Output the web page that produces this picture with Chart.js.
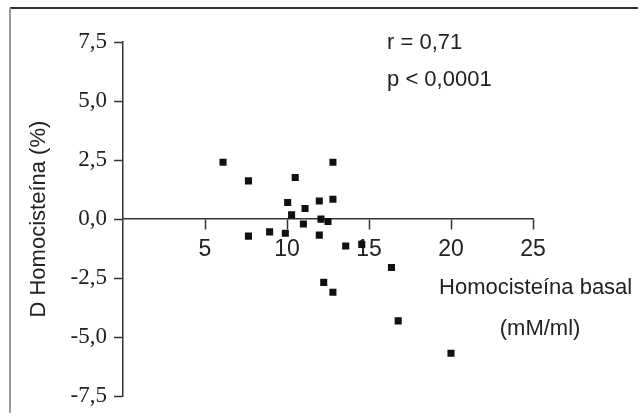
<!DOCTYPE html>
<html>
<head>
<meta charset="utf-8">
<script src="https://cdn.jsdelivr.net/npm/chart.js@4"></script>
<style>
  html, body { margin: 0; padding: 0; background: #fff; }
  #wrap { width: 639px; height: 417px; position: relative; }
</style>
</head>
<body>
<div id="wrap"><canvas id="homoChart"></canvas></div>
<script>
// Homocisteína basal (mM/ml) vs D Homocisteína (%)
const basal = [6.1, 7.65, 10.5, 12.8, 10.04, 11.1, 11.97, 12.8, 10.28, 11.0, 12.07, 12.5,
               7.65, 8.94, 9.9, 11.97, 13.58, 14.56, 16.37, 12.24, 12.8, 16.78, 20.0];
const deltaHcy = [2.41, 1.62, 1.76, 2.41, 0.70, 0.45, 0.77, 0.84, 0.18, -0.21, 0.0, -0.1,
                  -0.72, -0.54, -0.6, -0.68, -1.14, -1.07, -2.05, -2.68, -3.10, -4.31, -5.68];
const xTicks = [5, 10, 15, 20, 25];
const yTicks = [-7.5, -5.0, -2.5, 0.0, 2.5, 5.0, 7.5];

// textos sueltos (en coordenadas de datos)
const notes = [
    { text: 'r = 0,71', x: 16.1, y: 7.45, align: 'left' },
    { text: 'p < 0,0001', x: 16.1, y: 5.9, align: 'left' },
    { text: 'Homocisteína basal', x: 19.27, y: -2.93, align: 'left' },
    { text: '(mM/ml)', x: 25.43, y: -4.64, align: 'center' }
];

const points = basal.map((b, i) => ({ x: b, y: deltaHcy[i] }));

// marco de la figura y textos
const extras = {
    id: 'extras',
    beforeDraw(chart) {
        const ctx = chart.ctx;
        ctx.save();
        ctx.lineWidth = 2;
        ctx.strokeStyle = '#333';
        ctx.beginPath();
        ctx.moveTo(10, 8);
        ctx.lineTo(638, 8);
        ctx.stroke();
        ctx.strokeStyle = '#999';
        ctx.beginPath();
        ctx.moveTo(10, 8);
        ctx.lineTo(10, 413);
        ctx.stroke();
        ctx.restore();
    },
    afterDraw(chart) {
        const ctx = chart.ctx;
        const xs = chart.scales.x, ys = chart.scales.y;
        ctx.save();
        ctx.fillStyle = '#222';
        ctx.font = '22px "Liberation Sans", Arial, sans-serif';
        ctx.textBaseline = 'middle';
        notes.forEach(n => {
            ctx.textAlign = n.align;
            ctx.fillText(n.text, xs.getPixelForValue(n.x), ys.getPixelForValue(n.y));
        });
        ctx.restore();
    }
};

const config = {
    type: 'scatter',
    data: {
        datasets: [{
            data: points,
            pointStyle: 'rect',
            pointRadius: 5,
            backgroundColor: '#111',
            borderColor: '#111',
            borderWidth: 0
        }]
    },
    options: {
        responsive: true,
        maintainAspectRatio: false,
        animation: false,
        layout: { padding: { left: 0, right: 106, top: 42, bottom: 17 } },
        plugins: { legend: { display: false }, tooltip: { enabled: false } },
        scales: {
            x: {
                type: 'linear',
                position: { y: 0 },
                min: 0,
                max: 25,
                afterBuildTicks: s => { s.ticks = xTicks.map(v => ({ value: v })); },
                ticks: {
                    color: '#222',
                    font: { family: '"Liberation Sans", Arial, sans-serif', size: 23 },
                    padding: 7
                },
                grid: { drawOnChartArea: false, tickLength: 10, tickWidth: 1.5, tickColor: '#333' },
                border: { color: '#333', width: 1.5 }
            },
            y: {
                type: 'linear',
                min: -7.5,
                max: 7.5,
                afterBuildTicks: s => { s.ticks = yTicks.map(v => ({ value: v })); },
                afterFit: s => { s.width = 123; },
                ticks: {
                    color: '#222',
                    font: { family: '"Liberation Serif", "Times New Roman", serif', size: 23 },
                    padding: 7,
                    callback: v => v.toFixed(1).replace('.', ',')
                },
                grid: { drawOnChartArea: false, tickLength: 9, tickWidth: 1.5, tickColor: '#333' },
                border: { color: '#333', width: 1.5 },
                title: {
                    display: true,
                    text: 'D Homocisteína (%)',
                    color: '#222',
                    font: { family: '"Liberation Sans", Arial, sans-serif', size: 22 },
                    padding: { top: 26, bottom: 0 }
                }
            }
        }
    },
    plugins: [extras]
};

const homoChart = new Chart(document.getElementById('homoChart'), config);
</script>
</body>
</html>
